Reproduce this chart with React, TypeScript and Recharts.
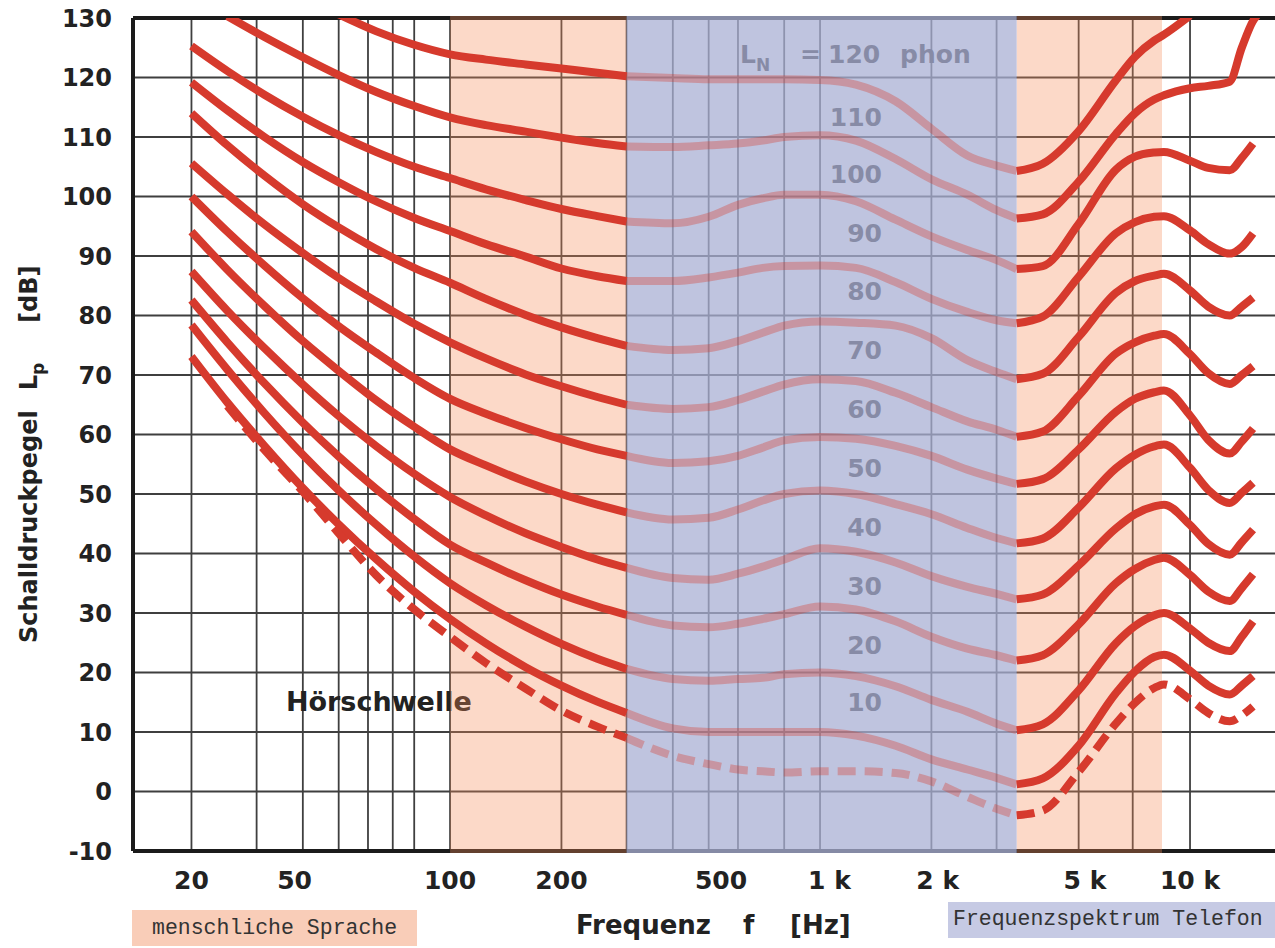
import {
  ComposedChart,
  Line,
  Scatter,
  XAxis,
  YAxis,
  CartesianGrid,
  ReferenceArea,
  ReferenceLine,
} from 'recharts'

// frequency grid shared by all curves (Hz)
const freqs = [
  20, 25, 31.5, 40, 50, 63, 80, 100, 125, 160, 200, 250, 300, 400, 500, 600, 700, 800, 1000, 1250,
  1600, 2000, 2500, 3000, 3400, 4000, 5000, 6300, 7100, 8000, 8500, 10000, 11200, 12800, 13800,
  14800, 15500,
]

// sound pressure level per loudness curve (dB)
const phon120 = [null, null, null, null, 130.6, 127.8, 125.5, 123.9, 123, 122.2, 121.5, 120.8, 120.2, 119.9, 119.7, 119.7, 119.7, 119.7, 119.6, 118.8, 116, 111.4, 106.9, 105.2, 104.3, 105.5, 111, 119.5, 123.5, 126.2, 127.2, 130.4, null, null, null, null, null]
const phon110 = [null, 130.3, 126.8, 123.4, 120.4, 117.6, 115.2, 113.3, 112, 110.9, 109.9, 109, 108.4, 108.3, 108.6, 108.9, 109.4, 110, 110.3, 109.4, 106.3, 102.9, 100.3, 97.7, 96.3, 97, 102.5, 110.5, 114, 116.3, 117, 118.2, 118.6, 119.3, 125, 129.5, 131]
const phon100 = [125.3, 121.1, 117.1, 113.4, 110.3, 107.5, 105, 103.1, 101.2, 99.4, 97.9, 96.7, 95.8, 95.5, 96.6, 98.6, 99.7, 100.3, 100.3, 99.2, 96.1, 93.3, 91, 89.3, 87.8, 88.3, 95.4, 104.5, 106.7, 107.4, 107.5, 106, 104.8, 104.4, 106.5, 108.9, null]
const phon90 = [119.2, 114.5, 110, 105.8, 102.4, 99.2, 96.4, 94.2, 92, 89.9, 87.9, 86.6, 85.8, 85.8, 86.4, 87.2, 88, 88.3, 88.4, 88, 85.6, 82.8, 80.6, 79.2, 78.7, 79.8, 86.5, 93.8, 95.7, 96.6, 96.7, 94.3, 92, 90.4, 91.5, 93.8, null]
const phon80 = [114, 108.6, 103.5, 98.7, 94.8, 91.2, 88, 85.5, 82.8, 80.1, 78, 76.2, 74.9, 74.2, 74.5, 75.7, 77.1, 78.3, 79, 78.8, 78.3, 76.2, 72.5, 70.5, 69.3, 70.2, 76.4, 83.8, 85.8, 86.7, 87, 84.2, 81.5, 80, 81.5, 83, null]
const phon70 = [105.6, 100.4, 95.3, 90.5, 86.3, 82.4, 78.6, 75.5, 72.8, 70.1, 68.1, 66.3, 65, 64.3, 64.6, 65.8, 67.2, 68.4, 69.3, 69, 67, 64.6, 62.2, 60.8, 59.6, 60.5, 66.5, 73.6, 75.5, 76.6, 76.9, 73.5, 70.3, 68.5, 70, 71.5, null]
const phon60 = [100, 94.1, 88.4, 82.9, 78.2, 73.8, 69.5, 66, 63.5, 61.1, 59.2, 57.5, 56.4, 55.2, 55.5, 56.4, 57.8, 59, 59.6, 59.3, 58.1, 56.4, 54.1, 52.6, 51.7, 52.5, 57.5, 63.8, 66, 67.1, 67.4, 63.2, 59.1, 56.8, 58.8, 61, null]
const phon50 = [94.1, 87.7, 81.6, 75.7, 70.7, 65.8, 61.3, 57.5, 54.8, 52.1, 50, 48.2, 46.9, 45.7, 46, 47.4, 48.9, 50, 50.6, 50, 48.3, 46.6, 44.3, 42.6, 41.7, 42.5, 47.7, 54.3, 56.6, 58, 58.3, 54.4, 50.7, 48.5, 50.2, 51.9, null]
const phon40 = [87.4, 80.8, 74.5, 68.4, 63.1, 58.1, 53.4, 49.5, 46.4, 43.4, 41.1, 39, 37.6, 35.9, 35.6, 36.6, 37.8, 39, 40.9, 40.3, 38.5, 36.2, 34.4, 33.2, 32.3, 33.1, 38, 44.2, 46.6, 47.9, 48.2, 44.8, 41.6, 39.8, 41.9, 44, null]
const phon30 = [82.6, 75.5, 68.6, 62, 56.3, 50.9, 45.8, 41.5, 38.5, 35.5, 33.1, 31.1, 29.7, 27.9, 27.6, 28.2, 29, 29.8, 31.1, 30.6, 28.6, 26, 24, 22.9, 22, 22.9, 28.1, 35, 37.4, 38.9, 39.3, 36.4, 33.6, 32, 34.2, 36.5, null]
const phon20 = [78.4, 70.9, 63.6, 56.6, 50.6, 44.9, 39.5, 35, 31.3, 27.7, 24.8, 22.3, 20.6, 18.9, 18.6, 18.9, 19.1, 19.7, 20, 19.4, 17.7, 15.4, 13.4, 11.4, 10.3, 11.3, 17, 24.9, 27.8, 29.6, 30, 27.4, 25, 23.6, 26, 28.6, null]
const phon10 = [73.1, 65.4, 58.1, 51, 44.9, 39.1, 33.6, 29, 24.9, 20.9, 17.8, 15.1, 13.2, 10.6, 10, 10, 10, 10, 10, 9.4, 7.7, 5.4, 3.7, 2.3, 1.2, 2.2, 7.7, 16.5, 20.2, 22.6, 23, 20.3, 17.8, 16.3, 17.8, 19.4, null]
const threshold = [null, 64.8, 57.4, 50.4, 43.4, 36.4, 30.6, 26, 21.6, 17.3, 13.6, 10.9, 9, 6, 4.6, 3.7, 3.4, 3.2, 3.4, 3.4, 3.1, 1.7, -0.9, -2.9, -4, -3.2, 3.3, 11.4, 14.9, 17.4, 18, 15.5, 13.2, 11.8, 12.8, 14.3, null]

// axes
const yTicks = [-10, 0, 10, 20, 30, 40, 50, 60, 70, 80, 90, 100, 110, 120, 130]
const gridFreqs = [20, 30, 40, 50, 60, 70, 80, 90, 100, 200, 300, 400, 500, 600, 700, 800, 900, 1000, 2000, 3000, 4000, 5000, 6000, 7000, 8000, 9000, 10000]
const xTickValues = [20, 38, 100, 200, 540, 1060, 2080, 5200, 10000]
const xTickLabels = ['20', '50', '100', '200', '500', '1 k', '2 k', '5 k', '10 k']

// bands
const speechBands = [[100, 300], [3400, 8400]]
const phoneBand = [300, 3400]

// curve labels
const phonLabelTexts = ['110', '100', '90', '80', '70', '60', '50', '40', '30', '20', '10']
const phonLabelLevels = [113.4, 103.8, 93.9, 84.1, 74.2, 64.3, 54.4, 44.5, 34.5, 24.6, 15]
const phonLabelFreq = 1470
const titleLabel = { f: 608, v: 124 }
const thresholdLabel = { f: 36, v: 15.2, text: 'Hörschwelle' }

const SANS = '"DejaVu Sans", Verdana, sans-serif'
const MONO = '"Courier New", "Liberation Mono", monospace'
const RED = '#d63a2d'
const LABEL_GRAY = '#878ba6'
const FRAME = '#1b1b1b'

const curves = [
  { name: '120', values: phon120, dashed: false },
  { name: '110', values: phon110, dashed: false },
  { name: '100', values: phon100, dashed: false },
  { name: '90', values: phon90, dashed: false },
  { name: '80', values: phon80, dashed: false },
  { name: '70', values: phon70, dashed: false },
  { name: '60', values: phon60, dashed: false },
  { name: '50', values: phon50, dashed: false },
  { name: '40', values: phon40, dashed: false },
  { name: '30', values: phon30, dashed: false },
  { name: '20', values: phon20, dashed: false },
  { name: '10', values: phon10, dashed: false },
  { name: 'thr', values: threshold, dashed: true },
]

type Pt = { f: number; v: number }

const toPoints = (vals: (number | null)[]): Pt[] =>
  freqs
    .map((f, i) => ({ f, v: vals[i] }))
    .filter((p): p is Pt => p.v !== null)

const between = (pts: Pt[], lo: number, hi: number) => pts.filter((p) => p.f >= lo && p.f <= hi)

// every curve is split at the telephone band so the middle part can be drawn faded
const segments = curves.map((c) => {
  const pts = toPoints(c.values)
  return {
    ...c,
    left: between(pts, 0, phoneBand[0]),
    mid: between(pts, phoneBand[0], phoneBand[1]),
    right: between(pts, phoneBand[1], Infinity),
  }
})

const phonLabels = phonLabelTexts.map((text, i) => ({ f: phonLabelFreq, v: phonLabelLevels[i], text }))

function YTick({ x, y, payload }: any) {
  return (
    <text x={x - 21} y={y} dy="0.36em" textAnchor="end" fontFamily={SANS} fontWeight="bold" fontSize={24} fill="#222">
      {payload.value}
    </text>
  )
}

function XTick({ x, y, payload }: any) {
  const idx = xTickValues.indexOf(payload.value)
  return (
    <text x={x} y={y + 38} textAnchor="middle" fontFamily={SANS} fontWeight="bold" fontSize={25} fill="#222">
      {idx >= 0 ? xTickLabels[idx] : ''}
    </text>
  )
}

const renderPhonLabel = (p: any) => (
  <text x={p.cx} y={p.cy} dy="0.36em" textAnchor="end" fontFamily={SANS} fontWeight="bold" fontSize={25} fill={LABEL_GRAY}>
    {p.payload.text}
  </text>
)

const renderTitle = (p: any) => (
  <text x={p.cx} y={p.cy + 9} fontFamily={SANS} fontWeight="bold" fontSize={25} fill={LABEL_GRAY}>
    L<tspan dy={8} fontSize={17}>N</tspan>
    <tspan x={p.cx + 60} dy={-8}>=</tspan>
    <tspan x={p.cx + 88}>120</tspan>
    <tspan x={p.cx + 160}>phon</tspan>
  </text>
)

const renderThresholdLabel = (p: any) => (
  <text x={p.cx} y={p.cy} dy="0.36em" fontFamily={SANS} fontWeight="bold" fontSize={27} fill="#222">
    {p.payload.text}
  </text>
)

export default function App() {
  return (
    <div style={{ position: 'absolute', left: 0, top: 0, width: 1275, height: 948, background: '#fff', overflow: 'hidden' }}>
      <ComposedChart width={1275} height={948} margin={{ top: 18, right: 0, bottom: 0, left: 0 }}>
        <CartesianGrid
          stroke="#3f3f3f"
          strokeWidth={1.8}
          verticalValues={gridFreqs}
          horizontalValues={yTicks}
          zIndex={100}
        />
        <XAxis
          dataKey="f"
          type="number"
          scale="log"
          domain={[13.9, 16970]}
          allowDataOverflow
          ticks={xTickValues}
          tick={<XTick />}
          tickLine={false}
          tickSize={0}
          tickMargin={0}
          height={97}
          axisLine={{ stroke: FRAME, strokeWidth: 4 }}
          zIndex={200}
        />
        <YAxis
          type="number"
          domain={[-10, 130]}
          allowDataOverflow
          ticks={yTicks}
          tick={<YTick />}
          tickLine={false}
          tickSize={0}
          tickMargin={0}
          width={133}
          axisLine={{ stroke: FRAME, strokeWidth: 4 }}
          zIndex={200}
        />
        <ReferenceLine y={130} stroke={FRAME} strokeWidth={4} ifOverflow="visible" zIndex={200} />

        <Scatter
          data={[thresholdLabel]}
          dataKey="v"
          shape={renderThresholdLabel}
          isAnimationActive={false}
          zIndex={250}
        />

        {speechBands.map(([lo, hi]) => (
          <ReferenceArea
            key={`speech-${lo}`}
            x1={lo}
            x2={hi}
            y1={-10.35}
            y2={130.35}
            fill="#f68c58"
            fillOpacity={0.33}
            stroke="none"
            ifOverflow="visible"
            zIndex={300}
          />
        ))}
        <ReferenceArea
          x1={phoneBand[0]}
          x2={phoneBand[1]}
          y1={-10.35}
          y2={130.35}
          fill="#aab0d4"
          fillOpacity={0.75}
          stroke="none"
          ifOverflow="visible"
          zIndex={300}
        />

        {segments.flatMap((c) => [
          <Line
            key={`l-${c.name}`}
            data={c.left}
            dataKey="v"
            type="monotone"
            stroke={RED}
            strokeWidth={8}
            strokeDasharray={c.dashed ? '18 9' : undefined}
            dot={false}
            activeDot={false}
            isAnimationActive={false}
            zIndex={400}
          />,
          <Line
            key={`r-${c.name}`}
            data={c.right}
            dataKey="v"
            type="monotone"
            stroke={RED}
            strokeWidth={8}
            strokeDasharray={c.dashed ? '18 9' : undefined}
            dot={false}
            activeDot={false}
            isAnimationActive={false}
            zIndex={400}
          />,
        ])}
        {segments.map((c) => (
          <Line
            key={`m-${c.name}`}
            data={c.mid}
            dataKey="v"
            type="monotone"
            stroke={RED}
            strokeOpacity={0.34}
            strokeWidth={8}
            strokeDasharray={c.dashed ? '18 9' : undefined}
            dot={false}
            activeDot={false}
            isAnimationActive={false}
            zIndex={450}
          />
        ))}

        <Scatter data={phonLabels} dataKey="v" shape={renderPhonLabel} isAnimationActive={false} zIndex={600} />
        <Scatter data={[titleLabel]} dataKey="v" shape={renderTitle} isAnimationActive={false} zIndex={600} />
      </ComposedChart>

      <svg width={1275} height={948} style={{ position: 'absolute', left: 0, top: 0, pointerEvents: 'none' }}>
        <text transform="translate(37,643) rotate(-90)" fontFamily={SANS} fontWeight="bold" fontSize={24} fill="#222">
          Schalldruckpegel
          <tspan dx={20}>L</tspan>
          <tspan dy={7} fontSize={17}>p</tspan>
          <tspan dx={40} dy={-7}>[dB]</tspan>
        </text>
        <text y={934} fontFamily={SANS} fontWeight="bold" fontSize={26} fill="#222">
          <tspan x={576}>Frequenz</tspan>
          <tspan x={743}>f</tspan>
          <tspan x={790}>[Hz]</tspan>
        </text>
        <rect x={132} y={910} width={285} height={36} fill="#f9cdb8" />
        <text x={152} y={934} fontFamily={MONO} fontSize={21.5} fill="#333">
          menschliche Sprache
        </text>
        <rect x={948} y={902} width={327} height={36} fill="#c6cae4" />
        <text x={953} y={925} fontFamily={MONO} fontSize={21.5} fill="#333">
          Frequenzspektrum Telefon
        </text>
      </svg>
    </div>
  )
}
